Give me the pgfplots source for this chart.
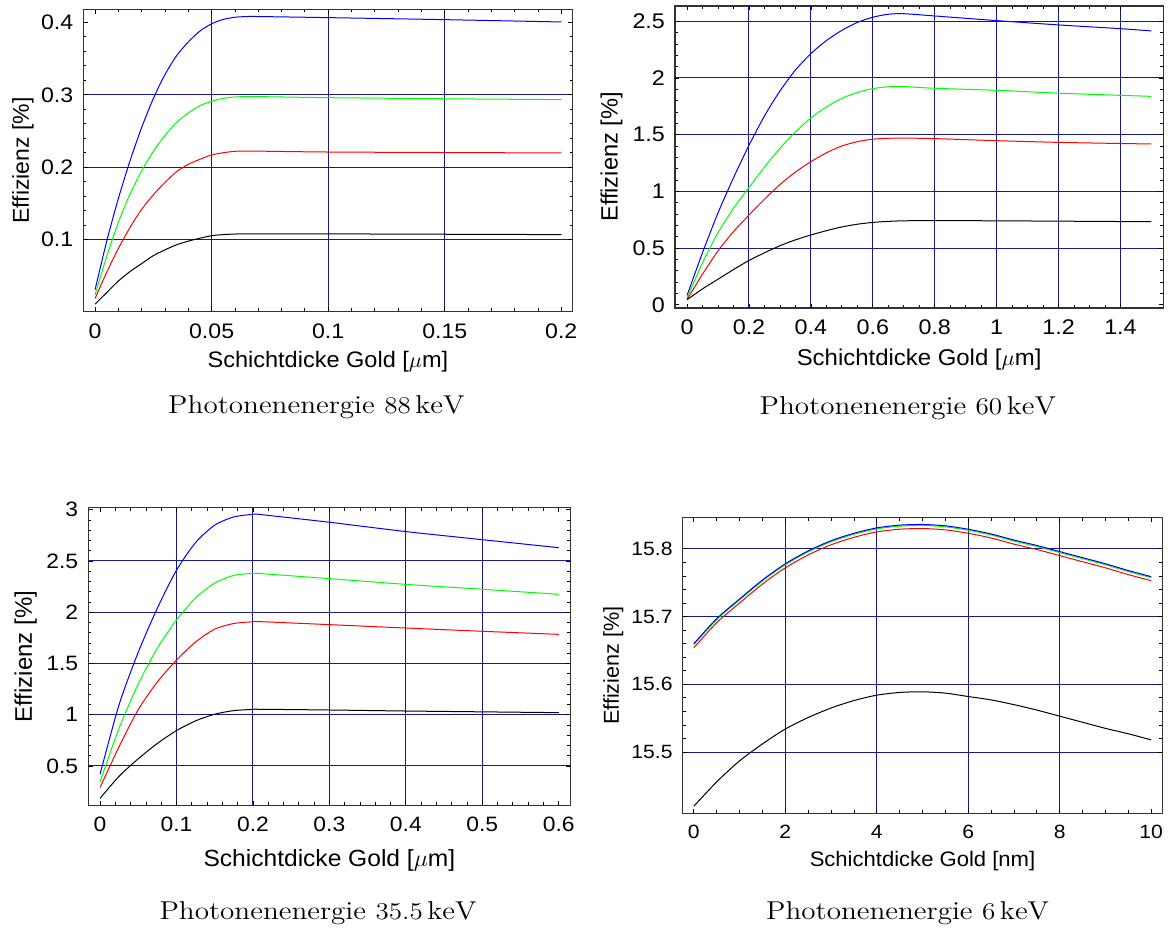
\documentclass[border=0pt]{standalone}
\usepackage{fontspec}
\usepackage{pgfplots}
\pgfplotsset{compat=1.18}
\newfontfamily\helv[FakeStretch=1.1]{Liberation Sans}
\newfontfamily\helvl[FakeStretch=1.05]{Liberation Sans}
\newfontfamily\helvy{Liberation Sans}
\definecolor{gridc}{RGB}{25,25,135}
\definecolor{frame}{RGB}{50,50,50}
\pgfplotsset{
  eff/.style={
    scale only axis,
    axis line style={frame, line width=0.6pt},
    tick align=inside,
    xtick pos=both, ytick pos=both,
    xticklabel pos=lower, yticklabel pos=left,
    major tick length=2.2pt, minor tick length=1.6pt,
    every tick/.style={black, line width=0.4pt},
    scaled ticks=false,
    /pgf/number format/assume math mode=true,
    /pgf/number format/fixed,
    /pgf/number format/precision=2,
    extra x tick labels={}, extra y tick labels={},
    extra tick style={grid=major, major grid style={gridc, line width=0.5pt}},
    xticklabel shift=2.3pt, yticklabel shift=1.5pt,
    every axis plot/.append style={line width=0.5pt, smooth, tension=0.45},
  },
}
\begin{document}
\begin{tikzpicture}
\useasboundingbox (0,0) rectangle (584pt,-464.5pt);
% ---------------- top left: 88 keV
\begin{axis}[eff,
  at={(41.6pt,-155.85pt)}, anchor=south west,
  width=244.75pt, height=151.2pt,
  xmin=-0.0051, xmax=0.2049, ymin=0.0006, ymax=0.418,
  xtick={0,0.05,0.1,0.15,0.2}, ytick={0.1,0.2,0.3,0.4},
  extra x ticks={0.05,0.1,0.15}, extra y ticks={0.1,0.2,0.3},
  minor x tick num=4, minor y tick num=4,
  tick label style={font=\helv\fontsize{10.5}{12}\selectfont},
  xlabel={Schichtdicke Gold [$\mu$m]},
  ylabel={Effizienz [\%]},
  xlabel style={font=\helvl\fontsize{11.2}{13}\selectfont, at={(axis description cs:0.5,-0.184)}, anchor=base},
  ylabel style={font=\helvy\fontsize{11.5}{14}\selectfont, at={(axis description cs:-0.111,0.5)}, anchor=base, rotate=0},
]
\addplot[blue] coordinates {(0,0.031) (0.005,0.098) (0.01,0.157) (0.015,0.209) (0.02,0.255) (0.025,0.295) (0.03,0.328) (0.035,0.354) (0.04,0.373) (0.045,0.388) (0.05,0.398) (0.055,0.404) (0.06,0.407) (0.065,0.408) (0.07,0.408) (0.1,0.4065) (0.15,0.4037) (0.2,0.4005)};
\addplot[green] coordinates {(0,0.024) (0.005,0.077) (0.01,0.124) (0.015,0.163) (0.02,0.195) (0.025,0.222) (0.03,0.244) (0.035,0.262) (0.04,0.275) (0.045,0.285) (0.05,0.291) (0.055,0.295) (0.06,0.297) (0.065,0.2975) (0.07,0.2975) (0.1,0.296) (0.15,0.2945) (0.2,0.2933)};
\addplot[red] coordinates {(0,0.019) (0.005,0.055) (0.01,0.088) (0.015,0.117) (0.02,0.142) (0.025,0.162) (0.03,0.179) (0.035,0.194) (0.04,0.204) (0.045,0.211) (0.05,0.217) (0.055,0.22) (0.06,0.222) (0.065,0.2222) (0.07,0.2222) (0.1,0.221) (0.15,0.2203) (0.2,0.2197)};
\addplot[black] coordinates {(0,0.011) (0.005,0.027) (0.01,0.043) (0.015,0.056) (0.02,0.067) (0.025,0.078) (0.03,0.086) (0.035,0.093) (0.04,0.098) (0.045,0.102) (0.05,0.1055) (0.055,0.107) (0.06,0.1078) (0.065,0.108) (0.07,0.108) (0.1,0.108) (0.15,0.1075) (0.2,0.107)};
\end{axis}
% ---------------- top right: 60 keV
\begin{axis}[eff,
  at={(337.5pt,-154pt)}, anchor=south west,
  width=244.1pt, height=151pt,
  xmin=-0.039, xmax=1.538, ymin=-0.029, ymax=2.635,
  xtick={0,0.2,0.4,0.6,0.8,1,1.2,1.4}, ytick={0,0.5,1,1.5,2,2.5},
  extra x ticks={0.2,0.4,0.6,0.8,1,1.2,1.4}, extra y ticks={0.5,1,1.5,2,2.5},
  minor x tick num=3, minor y tick num=4,
  tick label style={font=\helv\fontsize{10.6}{12}\selectfont},
  xlabel={Schichtdicke Gold [$\mu$m]},
  ylabel={Effizienz [\%]},
  xlabel style={font=\helvl\fontsize{11.4}{13}\selectfont, at={(axis description cs:0.5,-0.19)}, anchor=base},
  ylabel style={font=\helvy\fontsize{11.8}{14}\selectfont, at={(axis description cs:-0.1175,0.5)}, anchor=base, rotate=0},
]
\addplot[blue] coordinates {(0,0.082) (0.05,0.46) (0.1,0.81) (0.15,1.12) (0.2,1.406) (0.25,1.665) (0.3,1.885) (0.35,2.07) (0.4,2.215) (0.45,2.33) (0.5,2.42) (0.55,2.49) (0.6,2.536) (0.65,2.562) (0.7,2.567) (0.8,2.547) (1.0,2.506) (1.2,2.468) (1.4,2.435) (1.5,2.415)};
\addplot[green] coordinates {(0,0.06) (0.05,0.37) (0.1,0.635) (0.15,0.85) (0.2,1.035) (0.25,1.215) (0.3,1.38) (0.35,1.525) (0.4,1.647) (0.45,1.745) (0.5,1.82) (0.55,1.872) (0.6,1.906) (0.65,1.922) (0.7,1.924) (0.8,1.909) (1.0,1.891) (1.2,1.866) (1.4,1.847) (1.5,1.838)};
\addplot[red] coordinates {(0,0.047) (0.05,0.27) (0.1,0.475) (0.15,0.645) (0.2,0.791) (0.25,0.93) (0.3,1.06) (0.35,1.17) (0.4,1.262) (0.45,1.34) (0.5,1.4) (0.55,1.438) (0.6,1.46) (0.65,1.468) (0.7,1.47) (0.8,1.465) (1.0,1.447) (1.2,1.432) (1.4,1.422) (1.5,1.418)};
\addplot[black] coordinates {(0,0.044) (0.05,0.14) (0.1,0.225) (0.15,0.31) (0.2,0.39) (0.25,0.458) (0.3,0.52) (0.35,0.572) (0.4,0.615) (0.45,0.653) (0.5,0.686) (0.55,0.71) (0.6,0.726) (0.65,0.735) (0.7,0.74) (0.8,0.742) (1.0,0.74) (1.2,0.737) (1.5,0.732)};
\end{axis}
% ---------------- bottom left: 35.5 keV
\begin{axis}[eff,
  at={(44.1pt,-402.65pt)}, anchor=south west,
  width=241.2pt, height=148.8pt,
  xmin=-0.0155, xmax=0.6155, ymin=0.116, ymax=3.02,
  xtick={0,0.1,0.2,0.3,0.4,0.5,0.6}, ytick={0.5,1,1.5,2,2.5,3},
  extra x ticks={0.1,0.2,0.3,0.4,0.5}, extra y ticks={0.5,1,1.5,2,2.5},
  minor x tick num=4, minor y tick num=4,
  tick label style={font=\helv\fontsize{10.4}{12}\selectfont},
  xlabel={Schichtdicke Gold [$\mu$m]},
  ylabel={Effizienz [\%]},
  xlabel style={font=\helvl\fontsize{11.7}{13}\selectfont, at={(axis description cs:0.5,-0.205)}, anchor=base},
  ylabel style={font=\helvy\fontsize{12}{14}\selectfont, at={(axis description cs:-0.117,0.5)}, anchor=base, rotate=0},
]
\addplot[blue] coordinates {(0,0.42) (0.025,1.10) (0.05,1.61) (0.075,2.04) (0.1,2.41) (0.125,2.68) (0.15,2.85) (0.175,2.93) (0.2,2.955) (0.21,2.953) (0.3,2.878) (0.4,2.787) (0.5,2.708) (0.6,2.63)};
\addplot[green] coordinates {(0,0.346) (0.025,0.87) (0.05,1.30) (0.075,1.65) (0.1,1.924) (0.125,2.14) (0.15,2.285) (0.175,2.36) (0.2,2.379) (0.21,2.377) (0.3,2.328) (0.4,2.272) (0.5,2.224) (0.6,2.175)};
\addplot[red] coordinates {(0,0.29) (0.025,0.69) (0.05,1.05) (0.075,1.32) (0.1,1.533) (0.125,1.71) (0.15,1.835) (0.175,1.89) (0.2,1.907) (0.21,1.908) (0.3,1.879) (0.4,1.846) (0.5,1.814) (0.6,1.784)};
\addplot[black] coordinates {(0,0.184) (0.025,0.40) (0.05,0.57) (0.075,0.72) (0.1,0.845) (0.125,0.94) (0.15,1.005) (0.175,1.04) (0.2,1.052) (0.21,1.053) (0.3,1.046) (0.4,1.036) (0.5,1.028) (0.6,1.02)};
\end{axis}
% ---------------- bottom right: 6 keV
\begin{axis}[eff,
  at={(341.3pt,-406.85pt)}, anchor=south west,
  width=239.9pt, height=148pt,
  xmin=-0.246, xmax=10.246, ymin=15.409, ymax=15.846,
  xtick={0,2,4,6,8,10}, ytick={15.5,15.6,15.7,15.8},
  extra x ticks={2,4,6,8}, extra y ticks={15.5,15.6,15.7,15.8},
  minor x tick num=3, minor y tick num=4,
  tick label style={font=\helv\fontsize{9.6}{11}\selectfont},
  /pgf/number format/precision=1,
  xlabel={Schichtdicke Gold [nm]},
  ylabel={Effizienz [\%]},
  xlabel style={font=\helvl\fontsize{10.5}{12}\selectfont, at={(axis description cs:0.5,-0.18)}, anchor=base},
  ylabel style={font=\helvy\fontsize{10.8}{13}\selectfont, at={(axis description cs:-0.133,0.5)}, anchor=base, rotate=0},
]
\addplot[green] coordinates {(0,15.6585) (0.5,15.6955) (1,15.7245) (1.5,15.7525) (2,15.7765) (2.5,15.7955) (3,15.8105) (3.5,15.8215) (4,15.8295) (4.5,15.8335) (5,15.8345) (5.5,15.8325) (6,15.8275) (6.5,15.8205) (7,15.8115) (7.5,15.8035) (8,15.7945) (8.5,15.7855) (9,15.7765) (9.5,15.7665) (10,15.7575)};
\addplot[blue] coordinates {(0,15.660) (0.5,15.697) (1,15.726) (1.5,15.754) (2,15.778) (2.5,15.797) (3,15.812) (3.5,15.823) (4,15.831) (4.5,15.835) (5,15.836) (5.5,15.834) (6,15.829) (6.5,15.822) (7,15.813) (7.5,15.805) (8,15.796) (8.5,15.787) (9,15.778) (9.5,15.768) (10,15.759)};
\addplot[red] coordinates {(0,15.654) (0.5,15.691) (1,15.720) (1.5,15.748) (2,15.772) (2.5,15.791) (3,15.806) (3.5,15.817) (4,15.825) (4.5,15.829) (5,15.830) (5.5,15.828) (6,15.823) (6.5,15.816) (7,15.807) (7.5,15.799) (8,15.790) (8.5,15.781) (9,15.772) (9.5,15.762) (10,15.753)};
\addplot[black] coordinates {(0,15.42) (0.5,15.456) (1,15.487) (1.5,15.512) (2,15.534) (2.5,15.551) (3,15.565) (3.5,15.576) (4,15.584) (4.5,15.588) (5,15.589) (5.5,15.587) (6,15.582) (6.5,15.577) (7,15.570) (7.5,15.562) (8,15.553) (8.5,15.544) (9,15.535) (9.5,15.527) (10,15.518)};
\end{axis}
% ---------------- captions
\node[anchor=base, xscale=1.13, font=\fontsize{12.9}{15}\selectfont] at (158.2pt,-207pt) {Photonenenergie $88\,\mathrm{keV}$};
\node[anchor=base, xscale=1.13, font=\fontsize{12.9}{15}\selectfont] at (453.9pt,-207.5pt) {Photonenenergie $60\,\mathrm{keV}$};
\node[anchor=base, xscale=1.13, font=\fontsize{12.9}{15}\selectfont] at (159pt,-460pt) {Photonenenergie $35.5\,\mathrm{keV}$};
\node[anchor=base, xscale=1.13, font=\fontsize{12.9}{15}\selectfont] at (453.8pt,-460pt) {Photonenenergie $6\,\mathrm{keV}$};
\end{tikzpicture}
\end{document}
